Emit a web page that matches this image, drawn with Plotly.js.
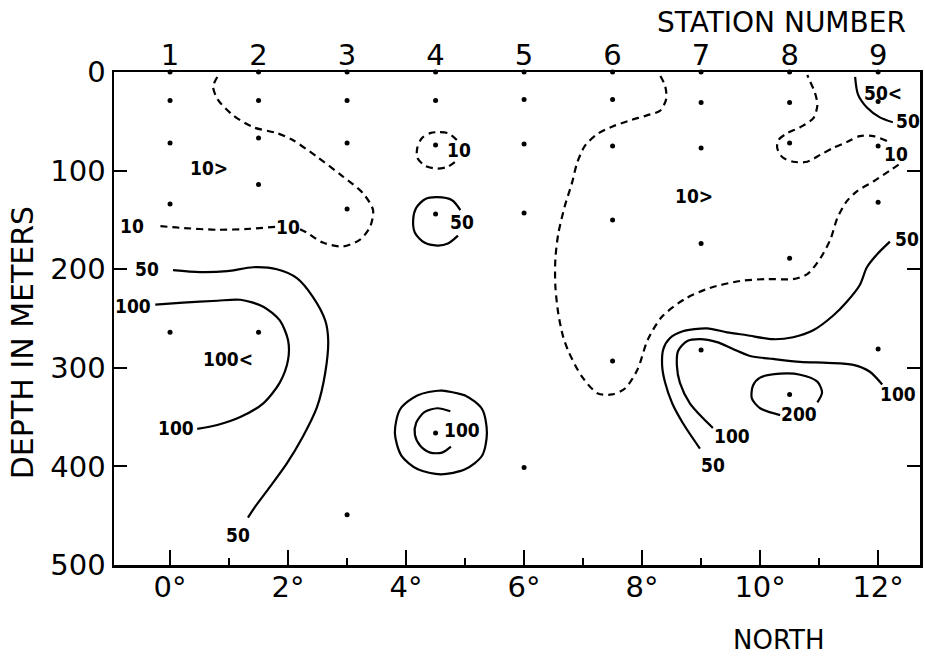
<!DOCTYPE html>
<html><head><meta charset="utf-8">
<script src="https://cdn.plot.ly/plotly-3.0.1.min.js"></script>
<style>html,body{margin:0;padding:0;background:#fff}#chart{width:925px;height:656px}</style>
</head><body><div id="chart"></div>
<script>
// ---------- data ----------
const stationNumbers = ['1','2','3','4','5','6','7','8','9'];
const stationLat = [0, 1.5, 3, 4.5, 6, 7.5, 9, 10.5, 12];
const surfaceDepth = [0, 0, 0, 0, 0, 0, 0, 0, 0];

const sampleLat = [
  0,0,0,0, 1.5,1.5,1.5,1.5, 3,3,3,3, 4.5,4.5,4.5,4.5, 6,6,6,6,
  7.5,7.5,7.5,7.5, 9,9,9,9, 10.5,10.5,10.5,10.5, 12,12,12,12];
const sampleDepth = [
  29,72,134,264, 29,67,114,264, 29,72,139,449, 29,74,144,366, 28,73,143,401,
  28,75,150,293, 31,77,174,282, 31,72,189,327, 30,75,132,281];

const xTickVals = [0, 2, 4, 6, 8, 10, 12];
const xTickText = ['0°','2°','4°','6°','8°','10°','12°'];
const yTickVals = [0, 100, 200, 300, 400, 500];
const yTickText = ['0','100','200','300','400','500'];

// contour 10 (dashed), left
const c10LeftAX = [0.80,0.73,0.81,1.07,1.41,1.81,2.08,2.49,2.93,3.27,3.44,3.39,3.22,2.93,2.59,2.32,2.15];
const c10LeftAD = [5,15,28,44,56,62,69,86,106,123,140,157,170,177,173,163,158];
const c10LeftBX = [1.78,1.36,0.80,0.17,-0.22];
const c10LeftBD = [157,159,160,158,156];
// contour 10 (dashed), station 4
const c10St4X = [4.86,4.71,4.53,4.41,4.27,4.19,4.19,4.32,4.53,4.71,4.88];
const c10St4D = [69,62,61,62,67,77,87,95,98,96,89];
// contour 50, station 4 upper
const c50St4X = [4.92,4.78,4.53,4.32,4.17,4.12,4.15,4.31,4.53,4.71,4.88];
const c50St4D = [140,130,127,129,138,150,163,173,176,174,166];
// contour 50, station 4 deep (closed)
const c50DeepX = [4.59,5.0,5.29,5.37,5.29,5.0,4.59,4.20,3.92,3.81,3.90,4.19,4.59,5.0];
const c50DeepD = [323,328,342,366,389,403,408,403,389,366,342,328,323,328];
// contour 100, station 4 deep
const c100DeepX = [4.75,4.53,4.31,4.17,4.15,4.24,4.41,4.61,4.76];
const c100DeepD = [344,341,345,356,368,379,386,386,380];
// contour 50, left
const c50LeftX = [0.05,0.51,0.97,1.41,1.81,2.15,2.42,2.63,2.68,2.63,2.49,2.25,1.98,1.69,1.44,1.32];
const c50LeftD = [201,203,202,198,200,209,228,252,272,305,340,370,397,421,441,452];
// contour 100, left
const c100LeftX = [-0.25,0.22,0.80,1.19,1.58,1.86,2.00,2.00,1.86,1.58,1.19,0.80,0.46];
const c100LeftD = [236,234,232,231,238,252,272,292,315,336,350,358,362];
// contour 10 (dashed), right
const c10RightAX = [8.31,8.39,8.41,8.31,8.08,7.80,7.51,7.24,7.03,6.90,6.81,6.69,6.58,6.53,6.53,6.58,6.66,6.75,6.98,7.25,7.49,7.71,7.92,8.10,8.34,8.73,9.15,9.66,10.12,10.56,10.80,11.02,11.19,11.31,11.47,11.64,11.92,12.20,12.37];
const c10RightAD = [4,14,27,39,44,49,55,63,75,92,113,136,164,190,217,245,268,283,309,326,327,321,302,271,248,230,219,212,210,210,205,189,170,148,131,121,111,100,93];
const c10RightBX = [12.15,11.92,11.69,11.47,11.24,11.02,10.80,10.56,10.37,10.29,10.31,10.46,10.68,10.90,10.97,10.93,10.85,10.80];
const c10RightBD = [70,65,65,71,77,84,91,91,86,77,69,62,56,47,34,21,10,3];
// contour 50, top right
const c50TopX = [11.61,11.66,11.81,12.03,12.25];
const c50TopD = [5,23,36,46,51];
// contour 50, right
const c50RightX = [12.20,11.98,11.81,11.69,11.47,11.24,10.90,10.56,10.22,9.78,9.44,9.10,8.69,8.47,8.36,8.34,8.39,8.51,8.69,8.98];
const c50RightD = [172,185,198,216,233,247,262,269,271,267,264,260,263,270,281,298,315,336,356,382];
// contour 100, right
const c100RightX = [12.07,11.86,11.58,11.14,10.68,10.22,9.83,9.54,9.27,8.98,8.76,8.61,8.59,8.64,8.81,9.03,9.20];
const c100RightD = [317,304,297,295,294,291,288,281,274,271,273,283,298,315,336,351,361];
// contour 200
const c200X = [10.97,11.05,10.97,10.68,10.34,10.0,9.88,9.86,10.0,10.34];
const c200D = [335,325,314,307,306,310,318,331,341,348];

// contour labels
const labelText = ['10&gt;','10','10','50','100','100&lt;','100','50',
  '10','50','100',
  '10&gt;','50&lt;','50','10','50','100','100','50','200'];
const labelLat = [0.66,-0.64,2.00,-0.39,-0.63,0.98,0.10,1.15,
  4.90,4.95,4.95,
  8.88,12.08,12.51,12.31,12.49,12.34,9.53,9.20,10.66];
const labelDepth = [97,156,157,200,237,291,361,470,
  79,152,363,
  126,21,50,83,169,327,369,399,347];

// ---------- chart ----------
const AX_FONT = '"DejaVu Sans", sans-serif';
const LB_FONT = '"Liberation Sans Narrow", "DejaVu Sans Condensed", "DejaVu Sans", sans-serif';

function contour(x, y, dashed) {
  return {x: x, y: y, type: 'scatter', mode: 'lines', hoverinfo: 'skip',
    line: {color: '#000', width: 2.2, shape: 'spline', smoothing: 0.8, dash: dashed ? '7px,5px' : 'solid'}};
}

const traces = [
  contour(c10LeftAX, c10LeftAD, true),
  contour(c10LeftBX, c10LeftBD, true),
  contour(c10St4X, c10St4D, true),
  contour(c50St4X, c50St4D, false),
  contour(c50DeepX, c50DeepD, false),
  contour(c100DeepX, c100DeepD, false),
  contour(c50LeftX, c50LeftD, false),
  contour(c100LeftX, c100LeftD, false),
  contour(c10RightAX, c10RightAD, true),
  contour(c10RightBX, c10RightBD, true),
  contour(c50TopX, c50TopD, false),
  contour(c50RightX, c50RightD, false),
  contour(c100RightX, c100RightD, false),
  contour(c200X, c200D, false),
  {x: sampleLat, y: sampleDepth, type: 'scatter', mode: 'markers',
   marker: {color: '#000', size: 5}},
  {x: stationLat, y: surfaceDepth, type: 'scatter', mode: 'markers', xaxis: 'x2',
   marker: {color: '#000', size: 5}, cliponaxis: false}
];

const annotations = labelText.map((t, i) => ({
  text: '<b>' + t + '</b>', x: labelLat[i], y: labelDepth[i], xref: 'x', yref: 'y',
  showarrow: false, xanchor: 'center', yanchor: 'middle',
  font: {family: LB_FONT, size: 19, color: '#000'}
}));
annotations.push(
  {text: 'STATION NUMBER', xref: 'x', yref: 'paper', x: 10.37, y: 1.101, showarrow: false,
   xanchor: 'center', yanchor: 'middle', font: {family: AX_FONT, size: 28, color: '#000'}},
  {text: 'NORTH', xref: 'x', yref: 'paper', x: 10.32, y: -0.152, showarrow: false,
   xanchor: 'center', yanchor: 'middle', font: {family: AX_FONT, size: 26, color: '#000'}},
  {text: 'DEPTH IN METERS', xref: 'paper', yref: 'paper', x: -0.114, y: 0.45, showarrow: false,
   textangle: -90, xanchor: 'center', yanchor: 'middle', font: {family: AX_FONT, size: 30, color: '#000'}}
);

const layout = {
  width: 925, height: 656,
  margin: {l: 114, r: 5, t: 72, b: 91},
  paper_bgcolor: '#fff', plot_bgcolor: '#fff', showlegend: false,
  font: {family: AX_FONT, color: '#000'},
  xaxis: {range: [-0.95, 12.71], showline: true, linewidth: 2.5, linecolor: '#000', mirror: true,
    ticks: 'inside', ticklen: 15, tickwidth: 2, tickcolor: '#000',
    tickmode: 'array', tickvals: xTickVals, ticktext: xTickText,
    tickfont: {family: AX_FONT, size: 29, color: '#000'}, ticklabelstandoff: -5,
    showgrid: false, zeroline: false,
    minor: {ticks: 'inside', ticklen: 7, tickwidth: 2, tickcolor: '#000', tickmode: 'linear', tick0: 0, dtick: 1, showgrid: false}},
  xaxis2: {overlaying: 'x', side: 'top', anchor: 'y', range: [-0.95, 12.71],
    tickmode: 'array', tickvals: stationLat, ticktext: stationNumbers, ticks: '',
    showline: false, showgrid: false, zeroline: false,
    tickfont: {family: AX_FONT, size: 29, color: '#000'}},
  yaxis: {range: [500, 0], tickmode: 'array', tickvals: yTickVals, ticktext: yTickText,
    ticks: 'inside', ticklen: 13, tickwidth: 2, tickcolor: '#000',
    showline: true, linewidth: 2.5, linecolor: '#000', mirror: 'ticks',
    showgrid: false, zeroline: false,
    tickfont: {family: AX_FONT, size: 29, color: '#000'}},
  annotations: annotations
};

Plotly.newPlot('chart', traces, layout, {displayModeBar: false, staticPlot: true});
</script></body></html>
